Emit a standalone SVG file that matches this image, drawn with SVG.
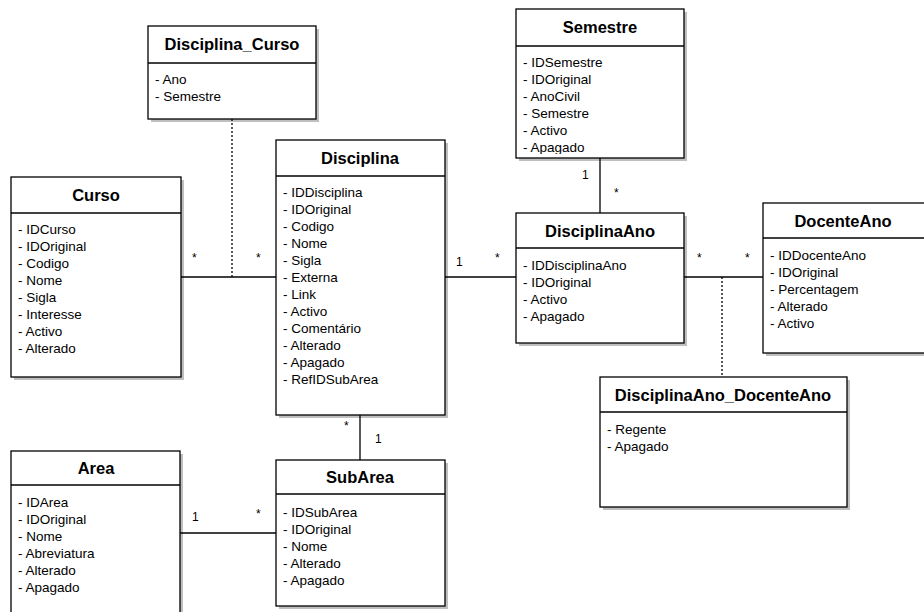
<svg xmlns="http://www.w3.org/2000/svg" width="924" height="612" viewBox="0 0 924 612">
<defs>
<style>
.box{fill:#fff;stroke:#000;stroke-width:1.3}
.sh{fill:#000;opacity:0.25}
.sep{stroke:#000;stroke-width:1.3}
.t{font-family:"Liberation Sans",Arial,sans-serif;font-size:16.5px;font-weight:bold;text-anchor:middle;fill:#000}
.a{font-family:"Liberation Sans",Arial,sans-serif;font-size:13.5px;fill:#000}
.m{font-family:"Liberation Sans",Arial,sans-serif;font-size:12px;fill:#000}
.ln{stroke:#000;stroke-width:1.3;fill:none}
.dot{stroke:#000;stroke-width:1.3;fill:none;stroke-dasharray:2 2}
</style>
<clipPath id="clipSem"><rect x="516" y="46" width="168" height="108"/></clipPath>
</defs>
<rect width="924" height="612" fill="#fff"/>

<g id="connectors">
<line class="ln" x1="181" y1="277" x2="276" y2="277"/>
<line class="dot" x1="232" y1="119" x2="232" y2="277"/>
<line class="ln" x1="445" y1="277" x2="516" y2="277"/>
<line class="ln" x1="600" y1="158" x2="600" y2="213"/>
<line class="ln" x1="684" y1="277" x2="763" y2="277"/>
<line class="dot" x1="722" y1="277" x2="722" y2="377"/>
<line class="ln" x1="360" y1="415" x2="360" y2="460"/>
<line class="ln" x1="180" y1="533" x2="276" y2="533"/>
<text class="m" x="192" y="262">*</text>
<text class="m" x="256" y="262">*</text>
<text class="m" x="456" y="266">1</text>
<text class="m" x="495" y="262">*</text>
<text class="m" x="582" y="179">1</text>
<text class="m" x="614" y="197">*</text>
<text class="m" x="697" y="262">*</text>
<text class="m" x="745" y="262">*</text>
<text class="m" x="344" y="430">*</text>
<text class="m" x="375" y="443">1</text>
<text class="m" x="192" y="521">1</text>
<text class="m" x="256" y="518">*</text>
</g>

<g id="Curso">
<rect class="sh" x="14" y="180" width="170" height="200"/>
<rect class="box" x="11" y="177" width="170" height="200"/>
<line class="sep" x1="11" y1="213" x2="181" y2="213"/>
<text class="t" x="96" y="201">Curso</text>
<text class="a" x="18" y="234">- IDCurso</text>
<text class="a" x="18" y="251">- IDOriginal</text>
<text class="a" x="18" y="268">- Codigo</text>
<text class="a" x="18" y="285">- Nome</text>
<text class="a" x="18" y="302">- Sigla</text>
<text class="a" x="18" y="319">- Interesse</text>
<text class="a" x="18" y="336">- Activo</text>
<text class="a" x="18" y="353">- Alterado</text>
</g>

<g id="Disciplina_Curso">
<rect class="sh" x="151" y="29" width="168" height="93"/>
<rect class="box" x="148" y="26" width="168" height="93"/>
<line class="sep" x1="148" y1="63" x2="316" y2="63"/>
<text class="t" x="232" y="50">Disciplina_Curso</text>
<text class="a" x="155" y="84">- Ano</text>
<text class="a" x="155" y="101">- Semestre</text>
</g>

<g id="Disciplina">
<rect class="sh" x="279" y="143" width="169" height="275"/>
<rect class="box" x="276" y="140" width="169" height="275"/>
<line class="sep" x1="276" y1="176" x2="445" y2="176"/>
<text class="t" x="360" y="164">Disciplina</text>
<text class="a" x="283" y="197">- IDDisciplina</text>
<text class="a" x="283" y="214">- IDOriginal</text>
<text class="a" x="283" y="231">- Codigo</text>
<text class="a" x="283" y="248">- Nome</text>
<text class="a" x="283" y="265">- Sigla</text>
<text class="a" x="283" y="282">- Externa</text>
<text class="a" x="283" y="299">- Link</text>
<text class="a" x="283" y="316">- Activo</text>
<text class="a" x="283" y="333">- Comentário</text>
<text class="a" x="283" y="350">- Alterado</text>
<text class="a" x="283" y="367">- Apagado</text>
<text class="a" x="283" y="384">- RefIDSubArea</text>
</g>

<g id="Semestre">
<rect class="sh" x="519" y="12" width="168" height="149"/>
<rect class="box" x="516" y="9" width="168" height="149"/>
<line class="sep" x1="516" y1="46" x2="684" y2="46"/>
<text class="t" x="600" y="33">Semestre</text>
<g clip-path="url(#clipSem)">
<text class="a" x="523" y="67">- IDSemestre</text>
<text class="a" x="523" y="84">- IDOriginal</text>
<text class="a" x="523" y="101">- AnoCivil</text>
<text class="a" x="523" y="118">- Semestre</text>
<text class="a" x="523" y="135">- Activo</text>
<text class="a" x="523" y="152">- Apagado</text>
</g>
</g>

<g id="DisciplinaAno">
<rect class="sh" x="519" y="216" width="168" height="130"/>
<rect class="box" x="516" y="213" width="168" height="130"/>
<line class="sep" x1="516" y1="248" x2="684" y2="248"/>
<text class="t" x="600" y="237">DisciplinaAno</text>
<text class="a" x="523" y="270">- IDDisciplinaAno</text>
<text class="a" x="523" y="287">- IDOriginal</text>
<text class="a" x="523" y="304">- Activo</text>
<text class="a" x="523" y="321">- Apagado</text>
</g>

<g id="DocenteAno">
<rect class="sh" x="766" y="206" width="165" height="150"/>
<rect class="box" x="763" y="203" width="165" height="150"/>
<line class="sep" x1="763" y1="238" x2="928" y2="238"/>
<text class="t" x="843" y="227">DocenteAno</text>
<text class="a" x="770" y="260">- IDDocenteAno</text>
<text class="a" x="770" y="277">- IDOriginal</text>
<text class="a" x="770" y="294">- Percentagem</text>
<text class="a" x="770" y="311">- Alterado</text>
<text class="a" x="770" y="328">- Activo</text>
</g>

<g id="DisciplinaAno_DocenteAno">
<rect class="sh" x="603" y="380" width="247" height="130"/>
<rect class="box" x="600" y="377" width="247" height="130"/>
<line class="sep" x1="600" y1="412" x2="847" y2="412"/>
<text class="t" x="723" y="401">DisciplinaAno_DocenteAno</text>
<text class="a" x="607" y="434">- Regente</text>
<text class="a" x="607" y="451">- Apagado</text>
</g>

<g id="Area">
<rect class="sh" x="14" y="454" width="169" height="170"/>
<rect class="box" x="11" y="451" width="169" height="170"/>
<line class="sep" x1="11" y1="485" x2="180" y2="485"/>
<text class="t" x="96" y="474">Area</text>
<text class="a" x="18" y="507">- IDArea</text>
<text class="a" x="18" y="524">- IDOriginal</text>
<text class="a" x="18" y="541">- Nome</text>
<text class="a" x="18" y="558">- Abreviatura</text>
<text class="a" x="18" y="575">- Alterado</text>
<text class="a" x="18" y="592">- Apagado</text>
</g>

<g id="SubArea">
<rect class="sh" x="279" y="463" width="169" height="146"/>
<rect class="box" x="276" y="460" width="169" height="146"/>
<line class="sep" x1="276" y1="494" x2="445" y2="494"/>
<text class="t" x="360" y="483">SubArea</text>
<text class="a" x="283" y="517">- IDSubArea</text>
<text class="a" x="283" y="534">- IDOriginal</text>
<text class="a" x="283" y="551">- Nome</text>
<text class="a" x="283" y="568">- Alterado</text>
<text class="a" x="283" y="585">- Apagado</text>
</g>
</svg>
